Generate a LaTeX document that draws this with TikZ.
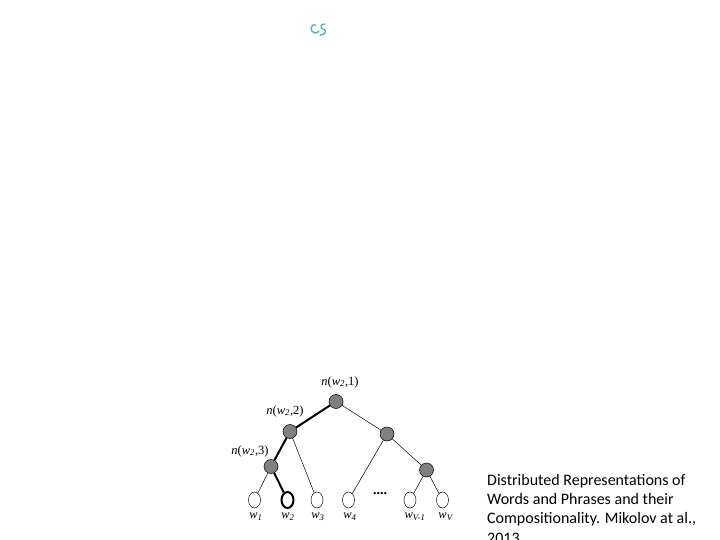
\documentclass[tikz,border=0pt]{standalone}
\usepackage{fontspec}
\usetikzlibrary{shapes.geometric}
\setmainfont{Liberation Serif}
\newfontfamily\capfont{Carlito}
\definecolor{nodegray}{RGB}{128,128,128}
\definecolor{bullteal}{RGB}{75,172,198}
\newcommand{\wsub}[1]{\textit{w}\textsubscript{\textit{#1}}}
\begin{document}
\begin{tikzpicture}[x=1pt,y=-1pt,
  inner/.style={circle,draw=black,fill=nodegray,minimum size=14pt,inner sep=0pt,line width=0.5pt},
  leaf/.style={ellipse,draw=black,fill=white,minimum width=12pt,minimum height=16pt,inner sep=0pt,line width=0.5pt},
  thin/.style={draw=black,line width=0.5pt},
  thick/.style={draw=black,line width=2pt},
  lab/.style={font=\fontsize{12.5}{13}\selectfont,inner sep=0pt}]
\useasboundingbox (0,0) rectangle (720,540);
% bullet glyph
\draw[bullteal,line width=1.3pt,line cap=round] (316,25) .. controls (311,23) and (309,31) .. (314,33) .. controls (316,34) and (318,32) .. (319,31);
\draw[bullteal,line width=1.3pt,line cap=round] (325,24) .. controls (320,24) and (320,28) .. (323,29) .. controls (327,30) and (326,35) .. (320,35);
% tree nodes
\node[inner] (r) at (336,401.5) {};
\node[inner] (a) at (290,431.5) {};
\node[inner] (b) at (387,434) {};
\node[inner] (c) at (271,466.5) {};
\node[inner] (d) at (426.5,470) {};
\node[leaf] (w1) at (254.5,500) {};
\node[leaf,line width=2pt] (w2) at (287.5,500) {};
\node[leaf] (w3) at (317,500) {};
\node[leaf] (w4) at (348.5,500) {};
\node[leaf] (wv1) at (410,500) {};
\node[leaf] (wv) at (442.5,500) {};
% edges
\path[thick] (r) -- (a);
\path[thick] (a) -- (c);
\path[thick] (c) -- (w2);
\path[thin] (c) -- (w1);
\path[thin] (a) -- (w3);
\path[thin] (r) -- (b);
\path[thin] (b) -- (w4);
\path[thin] (b) -- (d);
\path[thin] (d) -- (wv1);
\path[thin] (d) -- (wv);
% labels
\node[lab] (l1) at (340,382) {\textit{n}(\wsub{2},1)};
\node[lab] (l2) at (285,411) {\textit{n}(\wsub{2},2)};
\node[lab] (l3) at (250,451) {\textit{n}(\wsub{2},3)};
\node[lab] (t1) at (256,517) {\wsub{1}};
\node[lab] (t2) at (288,517) {\wsub{2}};
\node[lab] (t3) at (318,517) {\wsub{3}};
\node[lab] (t4) at (350,517) {\wsub{4}};
\node[lab] (tv1) at (415,517) {\wsub{V-1}};
\node[lab] (tv) at (446,517) {\wsub{V}};
\node[lab,font=\bfseries\fontsize{14}{14}\selectfont] (dots) at (380,494) {....};
% caption
\node[anchor=north west,inner sep=0pt,align=left,font=\capfont\fontsize{16}{19.3}\selectfont] (cap) at (487,474)
 {Distributed Representations of\\Words and Phrases and their\\Compositionality. Mikolov at al.,\\2013};
\end{tikzpicture}
\end{document}
